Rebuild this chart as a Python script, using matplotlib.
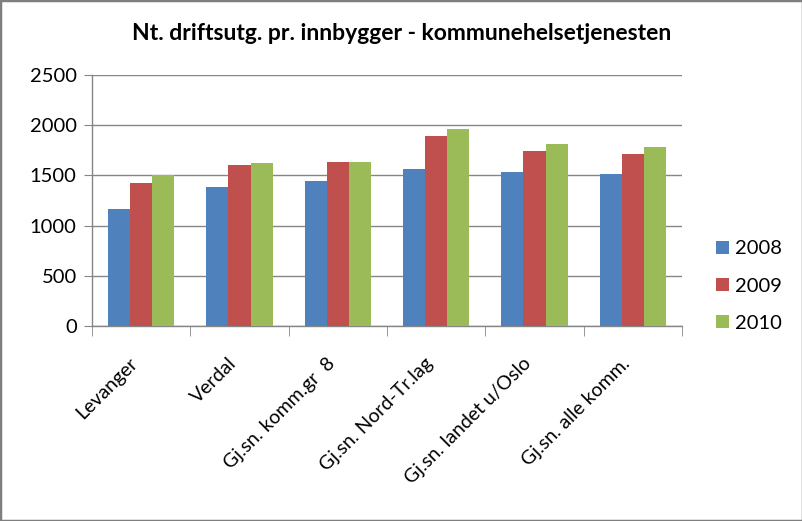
import numpy as np
import matplotlib
matplotlib.use("Agg")
import matplotlib.pyplot as plt
from matplotlib.patches import Rectangle

# ==== DATA ====
kategorier = ["Levanger", "Verdal", "Gj.sn. komm.gr  8", "Gj.sn. Nord-Tr.lag",
              "Gj.sn. landet u/Oslo", "Gj.sn. alle komm."]
aar = ["2008", "2009", "2010"]
v2008 = [1164, 1383, 1442, 1562, 1532, 1512]
v2009 = [1422, 1602, 1631, 1890, 1741, 1711]
v2010 = [1500, 1621, 1631, 1960, 1810, 1780]
yticks = [0, 500, 1000, 1500, 2000, 2500]

farger = ["#4F81BD", "#C0504D", "#9BBB59"]
grid_c = "#868686"

plt.rcParams["font.family"] = ["Lato", "DejaVu Sans"]

fig = plt.figure(figsize=(8.03, 5.21), dpi=100)
ax = fig.add_axes([92 / 803, 1 - 326 / 521, (682 - 92) / 803, (326 - 75) / 521])

x = np.arange(len(kategorier))
w = 0.224
for i, (serie, navn) in enumerate(zip([v2008, v2009, v2010], aar)):
    ax.bar(x + (i - 1) * w, serie, width=w, color=farger[i], label=navn, zorder=3)

ax.set_xlim(-0.5, len(kategorier) - 0.5)
ax.set_ylim(0, 2500)
ax.set_yticks(yticks)
ax.yaxis.grid(True, color=grid_c, linewidth=1, zorder=0)

for s in ["top", "right"]:
    ax.spines[s].set_visible(False)
for s in ["left", "bottom"]:
    ax.spines[s].set_color(grid_c)
    ax.spines[s].set_linewidth(1)

ax.tick_params(axis="y", length=6, color=grid_c, labelsize=14.5, pad=5)
ax.set_xticks(x)
ax.set_xticklabels(kategorier, rotation=45, ha="right", va="top", fontsize=14)
ax.tick_params(axis="x", which="major", length=0, pad=20.5)
ax.set_xticks(np.arange(-0.5, len(kategorier)), minor=True)
ax.tick_params(axis="x", which="minor", length=7, color=grid_c)

fig.text(0.5 * (128 + 676) / 803, 1 - 33 / 521,
         "Nt. driftsutg. pr. innbygger - kommunehelsetjenesten",
         ha="center", va="center", fontsize=16.5, fontweight="bold")

fig.legend(loc="center left", bbox_to_anchor=(716 / 803, 1 - 286 / 521),
           frameon=False, fontsize=14.5, handlelength=0.65, handleheight=0.65,
           handletextpad=0.3, labelspacing=1.0, borderpad=0, borderaxespad=0)

fig.patches.append(Rectangle((0, 0), 1, 1, transform=fig.transFigure,
                             fill=False, edgecolor="#7f7f7f", linewidth=2.5))

fig.savefig("out.png", dpi=100)
